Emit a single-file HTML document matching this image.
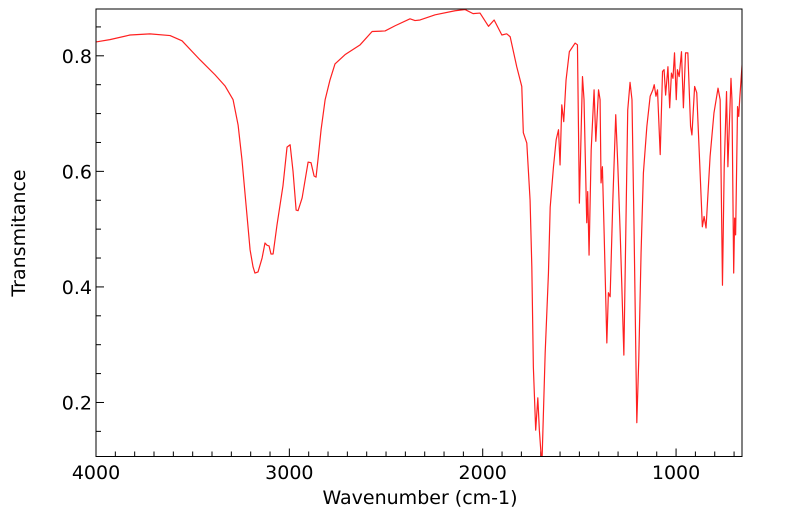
<!DOCTYPE html>
<html><head><meta charset="utf-8"><style>
html,body{margin:0;padding:0;background:#fff;}
svg text{font-family:"DejaVu Sans","Liberation Sans",sans-serif;fill:#000;}
</style></head><body>
<svg id="chart" width="799" height="516">
<defs><clipPath id="pc"><rect x="96" y="9" width="646" height="447.5"/></clipPath></defs>
<g id="ticks"></g>
<path id="line" clip-path="url(#pc)" fill="none" stroke="#ff2020" stroke-width="1.2" stroke-linejoin="round"/>
<rect x="96" y="9" width="646" height="447.5" fill="none" stroke="#000" stroke-width="1"/>
<text x="420" y="504" font-size="19" text-anchor="middle">Wavenumber (cm-1)</text>
<text transform="translate(25,233) rotate(-90)" font-size="19" text-anchor="middle">Transmitance</text>
</svg>
<script>
const wavenumbers=[4000,3928,3824,3721,3617,3555,3462,3384,3333,3291,3265,3245,3224,3203,3188,3178,3162,3141,3126,3115,3105,3095,3084,3064,3033,3012,2996,2981,2965,2955,2934,2914,2903,2888,2872,2862,2852,2836,2815,2790,2764,2712,2634,2572,2505,2453,2376,2350,2324,2246,2143,2091,2050,2014,1970,1941,1901,1876,1858,1824,1798,1790,1772,1755,1746,1738,1726,1715,1707,1694,1677,1660,1651,1634,1620,1608,1600,1591,1581,1569,1552,1522,1510,1500,1484,1476,1462,1457,1450,1439,1424,1415,1401,1393,1388,1381,1372,1358,1350,1341,1327,1312,1301,1289,1281,1270,1260,1250,1238,1228,1217,1203,1193,1181,1169,1151,1134,1120,1113,1104,1096,1082,1070,1062,1054,1042,1033,1024,1016,1008,999,993,984,972,962,951,939,925,918,904,893,880,864,855,845,824,804,783,772,760,751,739,732,716,711,702,697,692,682,676,671,654];
const transmittance=[0.824,0.828,0.836,0.838,0.835,0.826,0.793,0.767,0.748,0.724,0.68,0.62,0.542,0.464,0.435,0.424,0.426,0.45,0.476,0.472,0.471,0.457,0.457,0.507,0.575,0.642,0.646,0.6,0.533,0.532,0.554,0.594,0.616,0.615,0.592,0.59,0.62,0.672,0.724,0.758,0.786,0.802,0.819,0.842,0.843,0.852,0.864,0.861,0.862,0.871,0.878,0.880,0.873,0.874,0.851,0.862,0.836,0.838,0.833,0.781,0.747,0.667,0.649,0.55,0.435,0.261,0.152,0.208,0.152,0.09,0.285,0.424,0.538,0.608,0.655,0.672,0.611,0.715,0.686,0.758,0.807,0.822,0.819,0.545,0.764,0.724,0.511,0.565,0.455,0.637,0.741,0.652,0.741,0.724,0.58,0.608,0.493,0.303,0.39,0.383,0.55,0.698,0.608,0.493,0.407,0.282,0.493,0.706,0.754,0.724,0.493,0.165,0.273,0.459,0.597,0.678,0.73,0.741,0.75,0.73,0.741,0.629,0.773,0.776,0.732,0.781,0.71,0.77,0.761,0.805,0.724,0.776,0.764,0.807,0.71,0.805,0.805,0.678,0.663,0.747,0.736,0.632,0.504,0.522,0.502,0.626,0.701,0.744,0.724,0.403,0.608,0.738,0.608,0.761,0.724,0.424,0.519,0.49,0.712,0.695,0.724,0.807];
const xTicks=[4000,3000,2000,1000];
const yTicks=[0.2,0.4,0.6,0.8];

const X0=96,X1=742,Y0=456.5,Y1=9;
const xMin=4000,xMax=659,yMin=0.1065,yMax=0.881;
function xs(v){return X0+(xMin-v)/(xMin-xMax)*(X1-X0);}
function ys(v){return Y0-(v-yMin)/(yMax-yMin)*(Y0-Y1);}
let d='';
for(let i=0;i<wavenumbers.length;i++){d+=(i?'L':'M')+xs(wavenumbers[i]).toFixed(2)+','+ys(transmittance[i]).toFixed(2);}
document.getElementById('line').setAttribute('d',d);

const NS='http://www.w3.org/2000/svg';
const g=document.getElementById('ticks');
function ln(x1,y1,x2,y2){const l=document.createElementNS(NS,'line');l.setAttribute('x1',x1);l.setAttribute('y1',y1);l.setAttribute('x2',x2);l.setAttribute('y2',y2);l.setAttribute('stroke','#000');l.setAttribute('stroke-width','1');


g.appendChild(l);}
for(let w=4000;w>=xMax;w-=100){const major=w%1000===0;const x=xs(w);ln(x,Y0,x,Y0-(major?8:5));}
for(let t=0.15;t<=yMax;t+=0.05){const v=Math.round(t*100)/100;const major=Math.abs(v*10-Math.round(v*10))<1e-6&&Math.round(v*10)%2===0;const y=ys(v);ln(X0,y,X0+(major?8:5),y);}
xTicks.forEach(v=>{const t=document.createElementNS(NS,'text');t.setAttribute('x',xs(v));t.setAttribute('y',479);t.setAttribute('font-size','19');t.setAttribute('text-anchor','middle');t.textContent=v;


g.appendChild(t);});
yTicks.forEach(v=>{const t=document.createElementNS(NS,'text');t.setAttribute('x',92);t.setAttribute('y',ys(v)+7);t.setAttribute('font-size','19');t.setAttribute('text-anchor','end');t.textContent=v.toFixed(1);


g.appendChild(t);});
</script>
</body></html>
